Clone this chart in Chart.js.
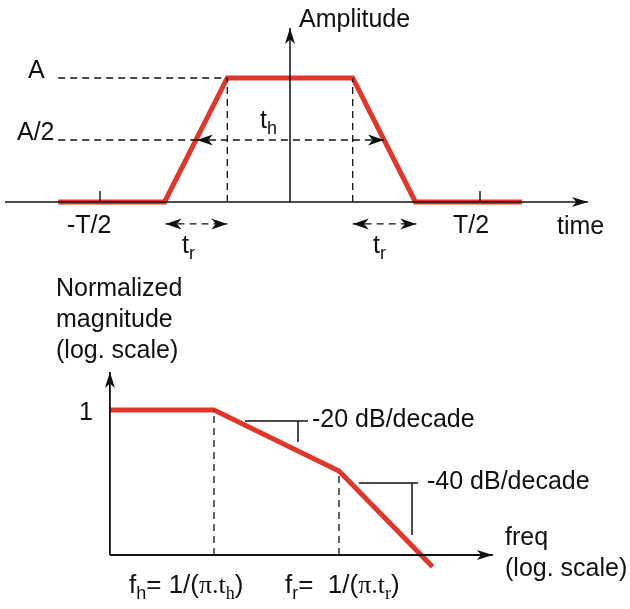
<!DOCTYPE html>
<html>
<head>
<meta charset="utf-8">
<script src="https://cdn.jsdelivr.net/npm/chart.js@4.4.0/dist/chart.umd.min.js"></script>
<style>
  html, body { margin: 0; padding: 0; background: #fff; }
  #wrap { position: relative; width: 630px; height: 609px; }
</style>
</head>
<body>
<div id="wrap"><canvas id="pulseChart" width="630" height="609"></canvas></div>
<script>
// top panel: trapezoid pulse, time in units of T/2, amplitude in units of A
const pulseTime = [-1.22, -0.66, -0.33, 0.33, 0.66, 1.22];
const pulseAmp = [0, 0, 1, 1, 0, 0];
const timeTicks = [-1, 1];
const timeTickLabels = ['-T/2', 'T/2'];

// bottom panel: normalized magnitude vs freq (log/log), f_h = 1, f_r = 10
const specFreq = [0.147, 1, 10, 56];
const specMag = [1, 1, 0.1, 0.0027];
// slope markers (-20 / -40 dB/decade)
const mark20Freq = [1.77, 5.65];
const mark20Mag = 0.66;
const mark20Drop = [4.7, 0.66, 0.30];
const mark40Freq = [14.4, 42.9];
const mark40Mag = 0.0636;
const mark40Drop = [38.4, 0.0636, 0.0089];

const RED = '#e3362a';
const INK = '#111';

function pts(xs, ys) {
    return xs.map((x, i) => ({ x: x, y: ys[i] }));
}

// helper for the small guide lines
function seg(x1, y1, x2, y2) {
    return [{ x: x1, y: y1 }, { x: x2, y: y2 }];
}

const topAx = { xAxisID: 'xt', yAxisID: 'yt' };
const botAx = { xAxisID: 'xb', yAxisID: 'yb' };
const dashed = { borderColor: INK, borderWidth: 1.3, borderDash: [7, 5] };
const solid = { borderColor: INK, borderWidth: 1.5 };

const datasets = [
    // top axes
    { ...topAx, ...solid, data: seg(-1.5, 0, 1.568, 0), arrows: ['end'] },
    { ...topAx, ...solid, data: seg(0, 0, 0, 1.403), arrows: ['end'] },
    // guides
    { ...topAx, ...dashed, data: seg(-1.22, 1, -0.33, 1) },
    { ...topAx, ...dashed, data: seg(-1.22, 0.5, -0.49, 0.5) },
    { ...topAx, ...dashed, data: seg(-0.49, 0.5, 0.495, 0.5), arrows: ['start', 'end'] },
    { ...topAx, ...dashed, data: seg(-0.33, 0, -0.33, 1) },
    { ...topAx, ...dashed, data: seg(0.33, 0, 0.33, 1) },
    { ...topAx, ...dashed, data: seg(-0.655, -0.177, -0.33, -0.177), arrows: ['start', 'end'] },
    { ...topAx, ...dashed, data: seg(0.33, -0.177, 0.665, -0.177), arrows: ['start', 'end'] },
    // pulse
    { ...topAx, data: pts(pulseTime, pulseAmp), borderColor: RED, borderWidth: 5 },

    // bottom axes
    { ...botAx, ...solid, borderWidth: 1.8, data: seg(0.147, 0.0042, 170, 0.0042), arrows: ['end'] },
    { ...botAx, ...solid, borderWidth: 1.8, data: seg(0.147, 0.0042, 0.147, 4.2), arrows: ['end'] },
    { ...botAx, ...dashed, data: seg(1, 0.0042, 1, 1) },
    { ...botAx, ...dashed, data: seg(10, 0.0042, 10, 0.1) },
    // slope markers
    { ...botAx, ...solid, data: seg(mark20Freq[0], mark20Mag, mark20Freq[1], mark20Mag) },
    { ...botAx, ...solid, data: seg(mark20Drop[0], mark20Drop[1], mark20Drop[0], mark20Drop[2]) },
    { ...botAx, ...solid, data: seg(mark40Freq[0], mark40Mag, mark40Freq[1], mark40Mag) },
    { ...botAx, ...solid, data: seg(mark40Drop[0], mark40Drop[1], mark40Drop[0], mark40Drop[2]) },
    // spectrum
    { ...botAx, data: pts(specFreq, specMag), borderColor: RED, borderWidth: 5 }
];
datasets.forEach(d => {
    d.showLine = true;
    d.pointRadius = 0;
    d.fill = false;
    d.tension = 0;
    d.borderCapStyle = 'butt';
});

function arrowHead(ctx, x, y, ang, len, half) {
    ctx.save();
    ctx.translate(x, y);
    ctx.rotate(ang);
    ctx.beginPath();
    ctx.moveTo(0, 0);
    ctx.lineTo(-len, -half);
    ctx.lineTo(-len * 0.72, 0);
    ctx.lineTo(-len, half);
    ctx.closePath();
    ctx.fillStyle = INK;
    ctx.fill();
    ctx.restore();
}

// draw text made of pieces (normal / subscript / serif)
function richText(ctx, parts, x, y, size) {
    let cx = x;
    parts.forEach(p => {
        const fs = p.sub ? Math.round(size * 0.7) : size;
        const fam = p.serif ? '"Liberation Serif", serif' : '"Liberation Sans", Arial, sans-serif';
        ctx.font = fs + 'px ' + fam;
        ctx.fillText(p.t, cx, y + (p.sub ? size * 0.22 : 0));
        cx += ctx.measureText(p.t).width;
    });
}

const decorPlugin = {
    id: 'decor',
    afterDatasetsDraw(chart) {
        const ctx = chart.ctx;
        // arrowheads on line ends
        chart.data.datasets.forEach((ds, i) => {
            if (!ds.arrows) return;
            const els = chart.getDatasetMeta(i).data;
            const isAxis = ds.borderDash === undefined;
            ds.arrows.forEach(end => {
                const a = end === 'end' ? els[els.length - 1] : els[0];
                const b = end === 'end' ? els[els.length - 2] : els[1];
                const ang = Math.atan2(a.y - b.y, a.x - b.x);
                arrowHead(ctx, a.x, a.y, ang, 16, isAxis ? 5 : 5.5);
            });
        });

        // ticks at -T/2, T/2
        const xt = chart.scales.xt, yt = chart.scales.yt;
        const y0 = yt.getPixelForValue(0);
        ctx.save();
        ctx.strokeStyle = INK;
        ctx.lineWidth = 1.4;
        timeTicks.forEach(v => {
            const px = xt.getPixelForValue(v);
            ctx.beginPath();
            ctx.moveTo(px, y0 - 11);
            ctx.lineTo(px, y0);
            ctx.stroke();
        });
        ctx.restore();

        ctx.save();
        ctx.fillStyle = INK;
        ctx.textBaseline = 'alphabetic';
        ctx.textAlign = 'left';
        const F = 25;
        const sans = F + 'px "Liberation Sans", Arial, sans-serif';
        ctx.font = sans;
        ctx.fillText('Amplitude', 299, 27);
        ctx.fillText('A', 28, 78);
        ctx.fillText('A/2', 17, 140);
        ctx.fillText(timeTickLabels[0], 67, 233);
        ctx.fillText(timeTickLabels[1], 453, 233);
        ctx.fillText('time', 557, 234);
        richText(ctx, [{ t: 't' }, { t: 'h', sub: true }], 260, 128, F);
        richText(ctx, [{ t: 't' }, { t: 'r', sub: true }], 182, 253, F);
        richText(ctx, [{ t: 't' }, { t: 'r', sub: true }], 373, 253, F);

        ctx.font = sans;
        ctx.fillText('Normalized', 56, 296);
        ctx.fillText('magnitude', 56, 327);
        ctx.fillText('(log. scale)', 56, 358);
        ctx.fillText('1', 79, 420);
        ctx.fillText('-20 dB/decade', 312, 427);
        ctx.fillText('-40 dB/decade', 427, 489);
        ctx.fillText('freq', 505, 545);
        ctx.fillText('(log. scale)', 505, 576);

        richText(ctx, [{ t: 'f' }, { t: 'h', sub: true }, { t: '= 1/(' }, { t: 'π.t', serif: true },
            { t: 'h', sub: true, serif: true }, { t: ')' }], 129, 593, 26);
        richText(ctx, [{ t: 'f' }, { t: 'r', sub: true }, { t: '=  1/(' }, { t: 'π.t', serif: true },
            { t: 'r', sub: true, serif: true }, { t: ')' }], 285, 593, 26);
        ctx.restore();
    }
};

const chart = new Chart(document.getElementById('pulseChart').getContext('2d'), {
    type: 'scatter',
    data: { datasets: datasets },
    options: {
        responsive: false,
        animation: false,
        layout: { padding: 0 },
        plugins: { legend: { display: false }, tooltip: { enabled: false } },
        scales: {
            xt: { type: 'linear', display: false, bounds: 'data', min: -1.5263, max: 1.7895 },
            yt: { type: 'linear', display: false, bounds: 'data', min: -3.2823, max: 1.6290 },
            xb: { type: 'logarithmic', display: false, bounds: 'data', min: 0.01941, max: 2128 },
            yb: { type: 'logarithmic', display: false, bounds: 'data', min: 5.466e-4, max: 5.264e6 }
        }
    },
    plugins: [decorPlugin]
});
</script>
</body>
</html>
